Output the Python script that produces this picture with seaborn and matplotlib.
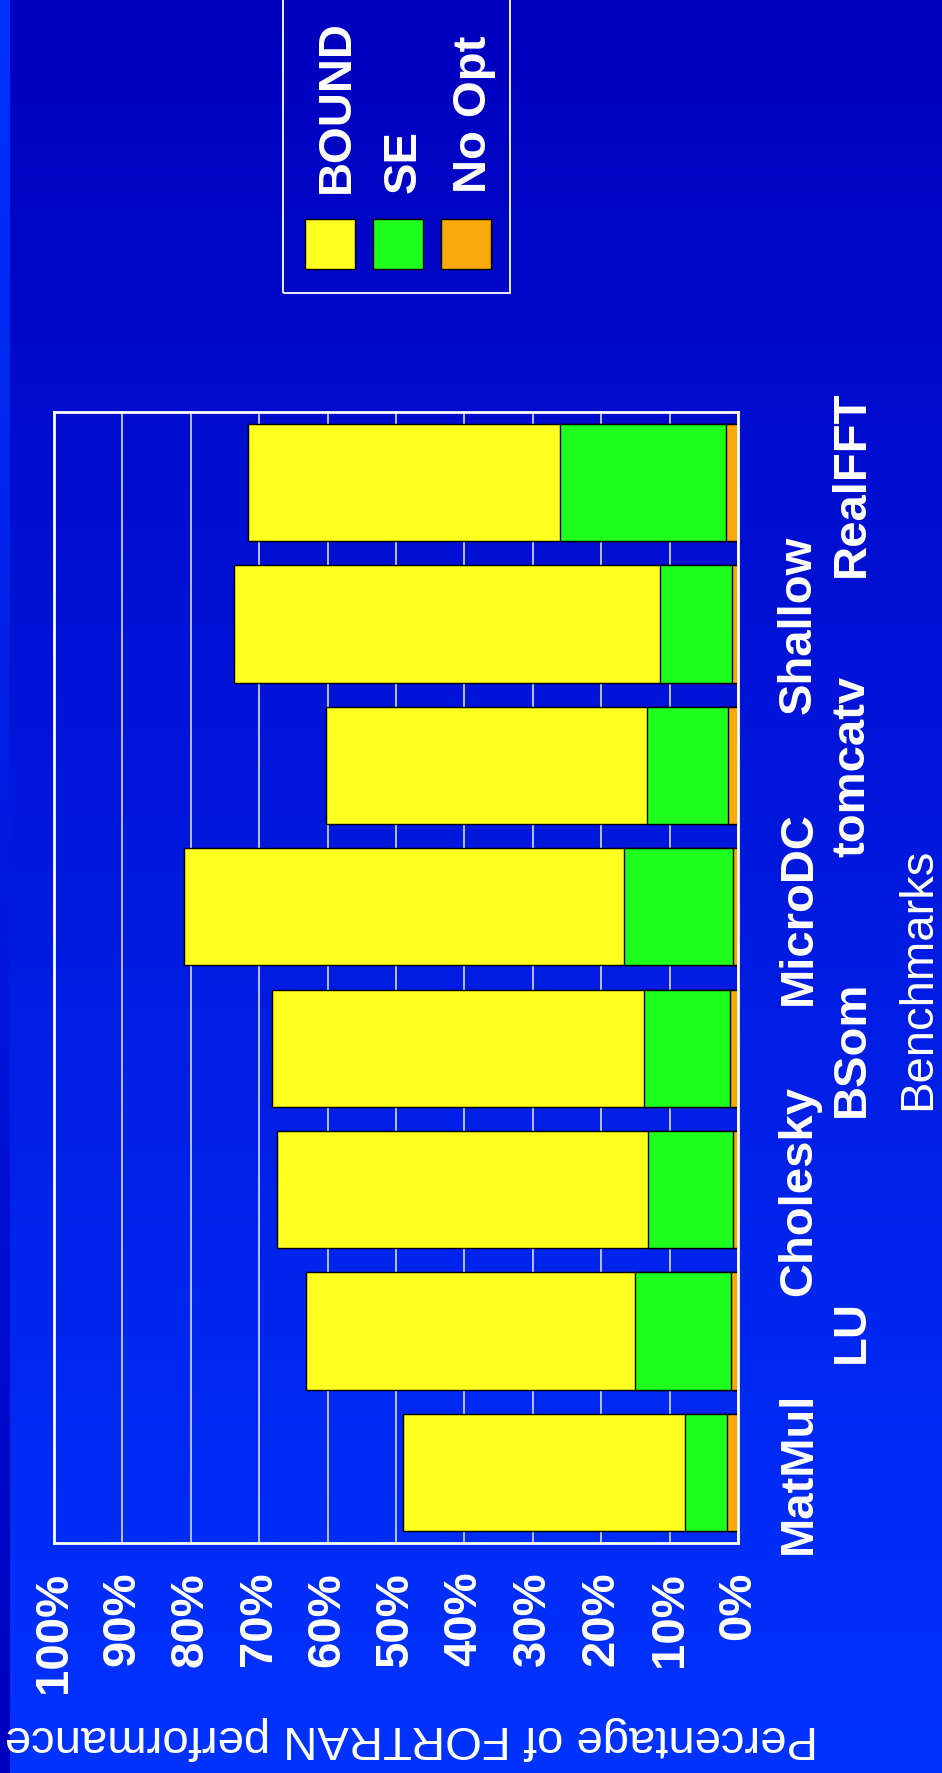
import numpy as np
import pandas as pd
import matplotlib
matplotlib.use("Agg")
import matplotlib.pyplot as plt
from matplotlib.patches import Rectangle
import seaborn as sns

# Benchmark results: percentage of FORTRAN performance per optimisation level
benchmarks = ["MatMul", "LU", "Cholesky", "BSom", "MicroDC", "tomcatv", "Shallow", "RealFFT"]
bound = [49.0, 63.1, 67.4, 68.2, 81.0, 60.3, 73.7, 71.7]
se = [7.8, 15.1, 13.2, 13.7, 16.6, 13.3, 11.4, 26.0]
no_opt = [1.6, 1.0, 0.8, 1.2, 0.8, 1.5, 0.9, 1.8]

series_names = ["BOUND", "SE", "No Opt"]
series_colors = ["#FFFF1F", "#1EFF1E", "#F9AA0A"]
pct_ticks = list(range(0, 101, 10))
pct_labels = [f"{t}%" for t in pct_ticks]

plt.rcParams["font.family"] = ["Liberation Sans", "DejaVu Sans"]

W, H, DPI = 942, 1774, 100
FS = 34

df = pd.DataFrame({"bench": benchmarks, "BOUND": bound, "SE": se, "No Opt": no_opt})

fig = plt.figure(figsize=(W / DPI, H / DPI), dpi=DPI)

# slide background: vertical blue gradient plus a thin reversed strip on the left edge
bg = fig.add_axes([0, 0, 1, 1], zorder=-10)
t = np.linspace(0, 1, 512)[:, None]
top = np.array([0, 0, 190]) / 255.0
bot = np.array([0, 51, 255]) / 255.0
grad = top[None, None, :] * (1 - t[..., None]) + bot[None, None, :] * t[..., None]
grad = np.repeat(grad, 2, axis=1)
strip = grad[::-1]
bg.imshow(grad, extent=[0, W, H, 0], aspect="auto")
bg.imshow(strip, extent=[0, 10, H, 0], aspect="auto")
bg.set_xlim(0, W)
bg.set_ylim(H, 0)
bg.axis("off")

ax = fig.add_axes([54 / W, (H - 1544) / H, 684 / W, 1131 / H])
ax.set_facecolor("none")

order = benchmarks[::-1]
for name, col in zip(series_names, series_colors):
    sns.barplot(data=df, x=name, y="bench", order=order, color=col, saturation=1,
                width=0.83, edgecolor="black", linewidth=1, orient="h", ax=ax)

ax.set_xlim(100, 0)
ax.set_ylim(len(order) - 0.5, -0.5)

# value axis (drawn along the bottom, rotated labels)
ax.set_xticks(pct_ticks, labels=pct_labels)
ax.tick_params(axis="x", length=0, pad=20, labelsize=FS, labelcolor="white", labelrotation=90)
for lbl in ax.get_xticklabels():
    lbl.set_fontweight("bold")
ax.set_yticks(range(len(order)), labels=[""] * len(order))
ax.tick_params(axis="y", length=0)

ax.grid(axis="x", color="#d8d8ff", linewidth=1.2)
ax.grid(axis="y", visible=False)
ax.set_axisbelow(True)
for sp in ax.spines.values():
    sp.set_visible(True)
    sp.set_color("white")
    sp.set_linewidth(2)

# staggered benchmark names on the right
ytr = ax.get_yaxis_transform()
for i, name in enumerate(order):
    k = benchmarks.index(name)
    xpos = 1.089 if k % 2 == 0 else 1.167
    ax.text(xpos, i, name, transform=ytr, rotation=90, ha="center", va="center",
            fontsize=FS, fontweight="bold", color="white")

ax.set_xlabel("Percentage of FORTRAN performance", fontsize=FS, color="white", rotation=180)
ax.xaxis.set_label_coords(0.523, -0.1715)
ax.xaxis.label.set_va("center")

ax.set_ylabel("Benchmarks", fontsize=FS, color="white")
ax.yaxis.set_label_position("right")
ax.yaxis.label.set_rotation(90)
ax.yaxis.label.set_rotation_mode("default")
ax.yaxis.label.set_va("center")
ax.yaxis.label.set_ha("center")
ax.yaxis.set_label_coords(1.264, 0.5)

# legend box in the top corner
fig.patches.append(Rectangle((283 / W, 1 - 294 / H), (510 - 283) / W, 320 / H,
                             transform=fig.transFigure, fill=False,
                             edgecolor="white", linewidth=1.3))
sq_x = [305, 373, 441]
txt_x = [337, 404, 474]
for name, col, sx, tx in zip(series_names, series_colors, sq_x, txt_x):
    fig.patches.append(Rectangle((sx / W, 1 - 270 / H), 50 / W, 50 / H,
                                 transform=fig.transFigure, facecolor=col,
                                 edgecolor="black", linewidth=1))
    fig.text(tx / W, 1 - 193 / H, name, rotation=90, ha="center", va="bottom",
             fontsize=FS, fontweight="bold", color="white")

fig.savefig("out.png", dpi=DPI)
